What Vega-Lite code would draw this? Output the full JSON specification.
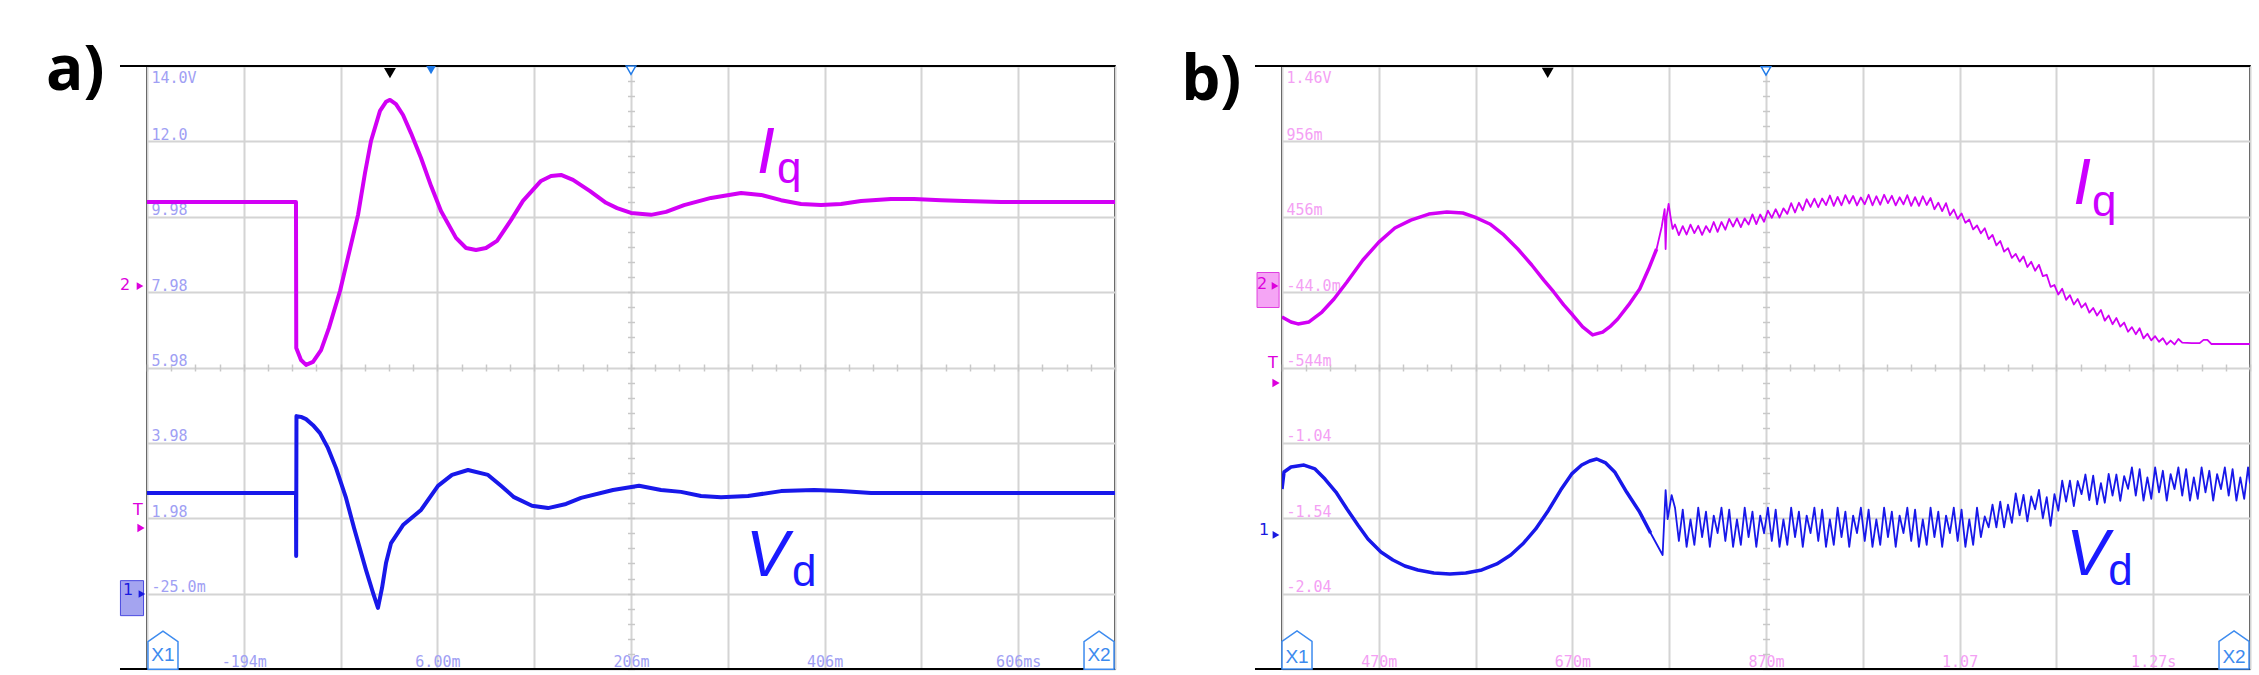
{
"$schema": "https://vega.github.io/schema/vega-lite/v6.json",
"background": "white",
"padding": {"left": 45, "top": 39, "right": 8, "bottom": 5},
"autosize": {"type": "pad"},
"bounds": "flush",
"spacing": 167,
"config": {
  "view": {"stroke": "#000000", "strokeWidth": 2},
  "axis": {"domain": false, "ticks": false, "tickSize": 0, "grid": true, "gridColor": "#d4d4d4", "gridWidth": 2, "labelFont": "DejaVu Sans Mono", "labelFontSize": 15, "labelFlush": false, "labelOverlap": false}
},
"datasets": {
"a": [
{"s":"Iq","t":-294,"v":10.37},{"s":"Iq","t":-140.1,"v":10.37},{"s":"Iq","t":-139.8,"v":6.5},{"s":"Iq","t":-134.9,"v":6.18},{"s":"Iq","t":-129.7,"v":6.05},{"s":"Iq","t":-122.5,"v":6.13},{"s":"Iq","t":-114.2,"v":6.44},{"s":"Iq","t":-106,"v":7.03},{"s":"Iq","t":-94.6,"v":8.01},{"s":"Iq","t":-85.3,"v":9.02},{"s":"Iq","t":-76,"v":10.03},{"s":"Iq","t":-68.8,"v":11.14},{"s":"Iq","t":-62.6,"v":11.99},{"s":"Iq","t":-53.3,"v":12.79},{"s":"Iq","t":-47.1,"v":13.03},{"s":"Iq","t":-43,"v":13.08},{"s":"Iq","t":-36.8,"v":12.97},{"s":"Iq","t":-29.5,"v":12.68},{"s":"Iq","t":-21.3,"v":12.2},{"s":"Iq","t":-10.9,"v":11.54},{"s":"Iq","t":-0.6,"v":10.8},{"s":"Iq","t":9.7,"v":10.13},{"s":"Iq","t":25.2,"v":9.42},{"s":"Iq","t":35.6,"v":9.15},{"s":"Iq","t":45.9,"v":9.1},{"s":"Iq","t":56.2,"v":9.15},{"s":"Iq","t":67.6,"v":9.34},{"s":"Iq","t":82,"v":9.89},{"s":"Iq","t":94.4,"v":10.4},{"s":"Iq","t":113,"v":10.93},{"s":"Iq","t":123.4,"v":11.06},{"s":"Iq","t":133.7,"v":11.09},{"s":"Iq","t":146.1,"v":10.96},{"s":"Iq","t":163.7,"v":10.66},{"s":"Iq","t":180.2,"v":10.35},{"s":"Iq","t":191.6,"v":10.21},{"s":"Iq","t":206,"v":10.08},{"s":"Iq","t":226.7,"v":10.03},{"s":"Iq","t":242.2,"v":10.11},{"s":"Iq","t":260.8,"v":10.29},{"s":"Iq","t":288.7,"v":10.48},{"s":"Iq","t":319.7,"v":10.61},{"s":"Iq","t":340.3,"v":10.56},{"s":"Iq","t":361,"v":10.42},{"s":"Iq","t":381.6,"v":10.32},{"s":"Iq","t":402.3,"v":10.29},{"s":"Iq","t":423,"v":10.32},{"s":"Iq","t":443.6,"v":10.4},{"s":"Iq","t":474.6,"v":10.45},{"s":"Iq","t":498.4,"v":10.45},{"s":"Iq","t":526.3,"v":10.42},{"s":"Iq","t":550,"v":10.4},{"s":"Iq","t":588.3,"v":10.37},{"s":"Iq","t":706,"v":10.37},
{"s":"Vd","t":-294,"v":2.65},{"s":"Vd","t":-140.1,"v":2.65},{"s":"Vd","t":-139.9,"v":0.98},{"s":"Vd","t":-139.6,"v":4.69},{"s":"Vd","t":-134.9,"v":4.67},{"s":"Vd","t":-129.7,"v":4.61},{"s":"Vd","t":-122.5,"v":4.45},{"s":"Vd","t":-115.3,"v":4.24},{"s":"Vd","t":-107,"v":3.84},{"s":"Vd","t":-98.7,"v":3.31},{"s":"Vd","t":-88.4,"v":2.52},{"s":"Vd","t":-80.1,"v":1.72},{"s":"Vd","t":-67.8,"v":0.61},{"s":"Vd","t":-60.5,"v":0.0},{"s":"Vd","t":-55.4,"v":-0.4},{"s":"Vd","t":-51.2,"v":0.13},{"s":"Vd","t":-47.1,"v":0.79},{"s":"Vd","t":-41.9,"v":1.32},{"s":"Vd","t":-29.5,"v":1.8},{"s":"Vd","t":-10.9,"v":2.2},{"s":"Vd","t":6.6,"v":2.84},{"s":"Vd","t":21.1,"v":3.13},{"s":"Vd","t":37.6,"v":3.26},{"s":"Vd","t":58.3,"v":3.13},{"s":"Vd","t":71.7,"v":2.84},{"s":"Vd","t":85.1,"v":2.54},{"s":"Vd","t":103.7,"v":2.31},{"s":"Vd","t":120.3,"v":2.25},{"s":"Vd","t":138.9,"v":2.36},{"s":"Vd","t":154.4,"v":2.52},{"s":"Vd","t":187.4,"v":2.73},{"s":"Vd","t":214.3,"v":2.84},{"s":"Vd","t":237,"v":2.73},{"s":"Vd","t":257.7,"v":2.68},{"s":"Vd","t":278.3,"v":2.57},{"s":"Vd","t":299,"v":2.54},{"s":"Vd","t":326.9,"v":2.57},{"s":"Vd","t":361,"v":2.7},{"s":"Vd","t":395.1,"v":2.73},{"s":"Vd","t":423,"v":2.7},{"s":"Vd","t":454,"v":2.65},{"s":"Vd","t":706,"v":2.65}
],
"b": [
{"s":"Iq","t":370,"v":-0.205},{"s":"Iq","t":379.3,"v":-0.238},{"s":"Iq","t":386.5,"v":-0.251},{"s":"Iq","t":397.9,"v":-0.238},{"s":"Iq","t":411.3,"v":-0.172},{"s":"Iq","t":423.7,"v":-0.086},{"s":"Iq","t":437.1,"v":0.027},{"s":"Iq","t":453.6,"v":0.173},{"s":"Iq","t":470.1,"v":0.292},{"s":"Iq","t":486.6,"v":0.385},{"s":"Iq","t":503.1,"v":0.438},{"s":"Iq","t":521.7,"v":0.478},{"s":"Iq","t":540.3,"v":0.492},{"s":"Iq","t":556.8,"v":0.485},{"s":"Iq","t":569.2,"v":0.458},{"s":"Iq","t":584.7,"v":0.412},{"s":"Iq","t":599.1,"v":0.339},{"s":"Iq","t":613.6,"v":0.246},{"s":"Iq","t":628,"v":0.14},{"s":"Iq","t":640.4,"v":0.04},{"s":"Iq","t":650.7,"v":-0.039},{"s":"Iq","t":661,"v":-0.125},{"s":"Iq","t":670.3,"v":-0.192},{"s":"Iq","t":680.6,"v":-0.271},{"s":"Iq","t":690.9,"v":-0.324},{"s":"Iq","t":701.3,"v":-0.305},{"s":"Iq","t":709.5,"v":-0.265},{"s":"Iq","t":716.8,"v":-0.218},{"s":"Iq","t":728.1,"v":-0.125},{"s":"Iq","t":739.5,"v":-0.019},{"s":"Iq","t":748.7,"v":0.113},{"s":"Iq","t":757,"v":0.246},{"s":"Iq","t":762.2,"v":0.392},{"s":"Iq","t":765.3,"v":0.511},{"s":"Iq","t":766.3,"v":0.246},{"s":"Iq","t":767.3,"v":0.458},{"s":"Iq","t":769.4,"v":0.545},{"s":"Iq","t":771.4,"v":0.458},{"s":"Iq","t":773.5,"v":0.379},
{"s":"Iq","t":776,"v":0.409},{"s":"Iq","t":780,"v":0.338},{"s":"Iq","t":784,"v":0.398},{"s":"Iq","t":788,"v":0.342},{"s":"Iq","t":792,"v":0.408},{"s":"Iq","t":796,"v":0.351},{"s":"Iq","t":800,"v":0.4},{"s":"Iq","t":804,"v":0.34},{"s":"Iq","t":808,"v":0.398},{"s":"Iq","t":812,"v":0.357},{"s":"Iq","t":816,"v":0.425},{"s":"Iq","t":820,"v":0.36},{"s":"Iq","t":824,"v":0.425},{"s":"Iq","t":828,"v":0.374},{"s":"Iq","t":832,"v":0.446},{"s":"Iq","t":836,"v":0.395},{"s":"Iq","t":840,"v":0.449},{"s":"Iq","t":844,"v":0.391},{"s":"Iq","t":848,"v":0.449},{"s":"Iq","t":852,"v":0.408},{"s":"Iq","t":856,"v":0.476},{"s":"Iq","t":860,"v":0.411},{"s":"Iq","t":864,"v":0.475},{"s":"Iq","t":868,"v":0.427},{"s":"Iq","t":872,"v":0.501},{"s":"Iq","t":876,"v":0.453},{"s":"Iq","t":880,"v":0.51},{"s":"Iq","t":884,"v":0.455},{"s":"Iq","t":888,"v":0.516},{"s":"Iq","t":892,"v":0.479},{"s":"Iq","t":896,"v":0.55},{"s":"Iq","t":900,"v":0.488},{"s":"Iq","t":904,"v":0.553},{"s":"Iq","t":908,"v":0.503},{"s":"Iq","t":912,"v":0.576},{"s":"Iq","t":916,"v":0.525},{"s":"Iq","t":920,"v":0.58},{"s":"Iq","t":924,"v":0.523},{"s":"Iq","t":928,"v":0.581},{"s":"Iq","t":932,"v":0.537},{"s":"Iq","t":936,"v":0.601},{"s":"Iq","t":940,"v":0.532},{"s":"Iq","t":944,"v":0.592},{"s":"Iq","t":948,"v":0.536},{"s":"Iq","t":952,"v":0.603},{"s":"Iq","t":956,"v":0.548},{"s":"Iq","t":960,"v":0.598},{"s":"Iq","t":964,"v":0.535},{"s":"Iq","t":968,"v":0.588},{"s":"Iq","t":972,"v":0.543},{"s":"Iq","t":976,"v":0.606},{"s":"Iq","t":980,"v":0.536},{"s":"Iq","t":984,"v":0.596},{"s":"Iq","t":988,"v":0.54},{"s":"Iq","t":992,"v":0.606},{"s":"Iq","t":996,"v":0.55},{"s":"Iq","t":1000,"v":0.599},{"s":"Iq","t":1004,"v":0.536},{"s":"Iq","t":1008,"v":0.589},{"s":"Iq","t":1012,"v":0.542},{"s":"Iq","t":1016,"v":0.603},{"s":"Iq","t":1020,"v":0.532},{"s":"Iq","t":1024,"v":0.59},{"s":"Iq","t":1028,"v":0.532},{"s":"Iq","t":1032,"v":0.596},{"s":"Iq","t":1036,"v":0.538},{"s":"Iq","t":1040,"v":0.584},{"s":"Iq","t":1044,"v":0.51},{"s":"Iq","t":1048,"v":0.553},{"s":"Iq","t":1052,"v":0.497},{"s":"Iq","t":1056,"v":0.55},{"s":"Iq","t":1060,"v":0.47},{"s":"Iq","t":1064,"v":0.508},{"s":"Iq","t":1068,"v":0.446},{"s":"Iq","t":1072,"v":0.482},{"s":"Iq","t":1076,"v":0.42},{"s":"Iq","t":1080,"v":0.442},{"s":"Iq","t":1084,"v":0.376},{"s":"Iq","t":1088,"v":0.402},{"s":"Iq","t":1092,"v":0.35},{"s":"Iq","t":1096,"v":0.384},{"s":"Iq","t":1100,"v":0.312},{"s":"Iq","t":1104,"v":0.34},{"s":"Iq","t":1108,"v":0.27},{"s":"Iq","t":1112,"v":0.299},{"s":"Iq","t":1116,"v":0.229},{"s":"Iq","t":1120,"v":0.252},{"s":"Iq","t":1124,"v":0.187},{"s":"Iq","t":1128,"v":0.213},{"s":"Iq","t":1132,"v":0.162},{"s":"Iq","t":1136,"v":0.197},{"s":"Iq","t":1140,"v":0.127},{"s":"Iq","t":1144,"v":0.161},{"s":"Iq","t":1148,"v":0.102},{"s":"Iq","t":1152,"v":0.141},{"s":"Iq","t":1156,"v":0.066},{"s":"Iq","t":1160,"v":0.075},{"s":"Iq","t":1164,"v":-0.005},{"s":"Iq","t":1168,"v":0.007},{"s":"Iq","t":1172,"v":-0.056},{"s":"Iq","t":1176,"v":-0.018},{"s":"Iq","t":1180,"v":-0.091},{"s":"Iq","t":1184,"v":-0.06},{"s":"Iq","t":1188,"v":-0.122},{"s":"Iq","t":1192,"v":-0.086},{"s":"Iq","t":1196,"v":-0.142},{"s":"Iq","t":1200,"v":-0.114},{"s":"Iq","t":1204,"v":-0.176},{"s":"Iq","t":1208,"v":-0.145},{"s":"Iq","t":1212,"v":-0.195},{"s":"Iq","t":1216,"v":-0.159},{"s":"Iq","t":1220,"v":-0.229},{"s":"Iq","t":1224,"v":-0.195},{"s":"Iq","t":1228,"v":-0.253},{"s":"Iq","t":1232,"v":-0.212},{"s":"Iq","t":1236,"v":-0.269},{"s":"Iq","t":1240,"v":-0.242},{"s":"Iq","t":1244,"v":-0.303},{"s":"Iq","t":1248,"v":-0.272},{"s":"Iq","t":1252,"v":-0.319},{"s":"Iq","t":1256,"v":-0.28},{"s":"Iq","t":1260,"v":-0.347},{"s":"Iq","t":1264,"v":-0.316},{"s":"Iq","t":1268,"v":-0.36},{"s":"Iq","t":1272,"v":-0.332},{"s":"Iq","t":1276,"v":-0.369},{"s":"Iq","t":1280,"v":-0.346},{"s":"Iq","t":1284,"v":-0.387},{"s":"Iq","t":1288,"v":-0.361},{"s":"Iq","t":1292,"v":-0.387},{"s":"Iq","t":1296,"v":-0.351},{"s":"Iq","t":1300,"v":-0.375},{"s":"Iq","t":1310,"v":-0.378},{"s":"Iq","t":1318,"v":-0.378},{"s":"Iq","t":1322,"v":-0.357},{"s":"Iq","t":1326,"v":-0.357},{"s":"Iq","t":1330,"v":-0.384},{"s":"Iq","t":1370,"v":-0.384},
{"s":"Vd","t":370,"v":-1.346},{"s":"Vd","t":372.1,"v":-1.233},{"s":"Vd","t":379.3,"v":-1.2},{"s":"Vd","t":392.7,"v":-1.187},{"s":"Vd","t":404.1,"v":-1.213},{"s":"Vd","t":414.4,"v":-1.28},{"s":"Vd","t":425.7,"v":-1.366},{"s":"Vd","t":437.1,"v":-1.479},{"s":"Vd","t":448.4,"v":-1.585},{"s":"Vd","t":458.8,"v":-1.678},{"s":"Vd","t":472.2,"v":-1.764},{"s":"Vd","t":484.6,"v":-1.817},{"s":"Vd","t":496.9,"v":-1.857},{"s":"Vd","t":510.4,"v":-1.883},{"s":"Vd","t":526.9,"v":-1.903},{"s":"Vd","t":543.4,"v":-1.91},{"s":"Vd","t":559.9,"v":-1.903},{"s":"Vd","t":576.4,"v":-1.883},{"s":"Vd","t":591.9,"v":-1.843},{"s":"Vd","t":606.3,"v":-1.784},{"s":"Vd","t":619.7,"v":-1.704},{"s":"Vd","t":632.1,"v":-1.611},{"s":"Vd","t":645.5,"v":-1.485},{"s":"Vd","t":657.9,"v":-1.353},{"s":"Vd","t":669.3,"v":-1.246},{"s":"Vd","t":679.6,"v":-1.187},{"s":"Vd","t":687.9,"v":-1.16},{"s":"Vd","t":695.1,"v":-1.147},{"s":"Vd","t":704.4,"v":-1.173},{"s":"Vd","t":713.7,"v":-1.233},{"s":"Vd","t":726,"v":-1.366},{"s":"Vd","t":739.5,"v":-1.499},{"s":"Vd","t":750.8,"v":-1.638},{"s":"Vd","t":763.2,"v":-1.784},{"s":"Vd","t":766.3,"v":-1.353},{"s":"Vd","t":768.4,"v":-1.545},{"s":"Vd","t":772.5,"v":-1.386},
{"s":"Vd","t":776,"v":-1.47},{"s":"Vd","t":780,"v":-1.691},{"s":"Vd","t":784,"v":-1.483},{"s":"Vd","t":788,"v":-1.73},{"s":"Vd","t":792,"v":-1.548},{"s":"Vd","t":796,"v":-1.717},{"s":"Vd","t":800,"v":-1.47},{"s":"Vd","t":804,"v":-1.665},{"s":"Vd","t":808,"v":-1.496},{"s":"Vd","t":812,"v":-1.73},{"s":"Vd","t":816,"v":-1.522},{"s":"Vd","t":820,"v":-1.639},{"s":"Vd","t":824,"v":-1.47},{"s":"Vd","t":828,"v":-1.691},{"s":"Vd","t":832,"v":-1.483},{"s":"Vd","t":836,"v":-1.73},{"s":"Vd","t":840,"v":-1.548},{"s":"Vd","t":844,"v":-1.717},{"s":"Vd","t":848,"v":-1.47},{"s":"Vd","t":852,"v":-1.665},{"s":"Vd","t":856,"v":-1.496},{"s":"Vd","t":860,"v":-1.73},{"s":"Vd","t":864,"v":-1.522},{"s":"Vd","t":868,"v":-1.639},{"s":"Vd","t":872,"v":-1.47},{"s":"Vd","t":876,"v":-1.691},{"s":"Vd","t":880,"v":-1.483},{"s":"Vd","t":884,"v":-1.73},{"s":"Vd","t":888,"v":-1.548},{"s":"Vd","t":892,"v":-1.717},{"s":"Vd","t":896,"v":-1.47},{"s":"Vd","t":900,"v":-1.665},{"s":"Vd","t":904,"v":-1.496},{"s":"Vd","t":908,"v":-1.73},{"s":"Vd","t":912,"v":-1.522},{"s":"Vd","t":916,"v":-1.639},{"s":"Vd","t":920,"v":-1.47},{"s":"Vd","t":924,"v":-1.691},{"s":"Vd","t":928,"v":-1.483},{"s":"Vd","t":932,"v":-1.73},{"s":"Vd","t":936,"v":-1.548},{"s":"Vd","t":940,"v":-1.717},{"s":"Vd","t":944,"v":-1.47},{"s":"Vd","t":948,"v":-1.665},{"s":"Vd","t":952,"v":-1.496},{"s":"Vd","t":956,"v":-1.73},{"s":"Vd","t":960,"v":-1.522},{"s":"Vd","t":964,"v":-1.639},{"s":"Vd","t":968,"v":-1.47},{"s":"Vd","t":972,"v":-1.691},{"s":"Vd","t":976,"v":-1.483},{"s":"Vd","t":980,"v":-1.73},{"s":"Vd","t":984,"v":-1.548},{"s":"Vd","t":988,"v":-1.717},{"s":"Vd","t":992,"v":-1.47},{"s":"Vd","t":996,"v":-1.665},{"s":"Vd","t":1000,"v":-1.496},{"s":"Vd","t":1004,"v":-1.73},{"s":"Vd","t":1008,"v":-1.522},{"s":"Vd","t":1012,"v":-1.639},{"s":"Vd","t":1016,"v":-1.47},{"s":"Vd","t":1020,"v":-1.691},{"s":"Vd","t":1024,"v":-1.483},{"s":"Vd","t":1028,"v":-1.73},{"s":"Vd","t":1032,"v":-1.548},{"s":"Vd","t":1036,"v":-1.717},{"s":"Vd","t":1040,"v":-1.47},{"s":"Vd","t":1044,"v":-1.665},{"s":"Vd","t":1048,"v":-1.496},{"s":"Vd","t":1052,"v":-1.73},{"s":"Vd","t":1056,"v":-1.522},{"s":"Vd","t":1060,"v":-1.639},{"s":"Vd","t":1064,"v":-1.47},{"s":"Vd","t":1068,"v":-1.691},{"s":"Vd","t":1072,"v":-1.483},{"s":"Vd","t":1076,"v":-1.73},{"s":"Vd","t":1080,"v":-1.548},{"s":"Vd","t":1084,"v":-1.717},{"s":"Vd","t":1088,"v":-1.47},{"s":"Vd","t":1092,"v":-1.665},{"s":"Vd","t":1096,"v":-1.528},{"s":"Vd","t":1100,"v":-1.6},{"s":"Vd","t":1104,"v":-1.45},{"s":"Vd","t":1108,"v":-1.6},{"s":"Vd","t":1112,"v":-1.43},{"s":"Vd","t":1116,"v":-1.6},{"s":"Vd","t":1120,"v":-1.45},{"s":"Vd","t":1124,"v":-1.57},{"s":"Vd","t":1128,"v":-1.375},{"s":"Vd","t":1132,"v":-1.52},{"s":"Vd","t":1136,"v":-1.385},{"s":"Vd","t":1140,"v":-1.56},{"s":"Vd","t":1144,"v":-1.395},{"s":"Vd","t":1148,"v":-1.48},{"s":"Vd","t":1152,"v":-1.352},{"s":"Vd","t":1156,"v":-1.54},{"s":"Vd","t":1160,"v":-1.4},{"s":"Vd","t":1164,"v":-1.59},{"s":"Vd","t":1168,"v":-1.38},{"s":"Vd","t":1172,"v":-1.49},{"s":"Vd","t":1176,"v":-1.29},{"s":"Vd","t":1180,"v":-1.43},{"s":"Vd","t":1184,"v":-1.29},{"s":"Vd","t":1188,"v":-1.46},{"s":"Vd","t":1192,"v":-1.293},{"s":"Vd","t":1196,"v":-1.38},{"s":"Vd","t":1200,"v":-1.25},{"s":"Vd","t":1204,"v":-1.42},{"s":"Vd","t":1208,"v":-1.258},{"s":"Vd","t":1212,"v":-1.448},{"s":"Vd","t":1216,"v":-1.307},{"s":"Vd","t":1220,"v":-1.437},{"s":"Vd","t":1224,"v":-1.246},{"s":"Vd","t":1228,"v":-1.39},{"s":"Vd","t":1232,"v":-1.25},{"s":"Vd","t":1236,"v":-1.425},{"s":"Vd","t":1240,"v":-1.26},{"s":"Vd","t":1244,"v":-1.345},{"s":"Vd","t":1248,"v":-1.203},{"s":"Vd","t":1252,"v":-1.39},{"s":"Vd","t":1256,"v":-1.214},{"s":"Vd","t":1260,"v":-1.423},{"s":"Vd","t":1264,"v":-1.269},{"s":"Vd","t":1268,"v":-1.412},{"s":"Vd","t":1272,"v":-1.203},{"s":"Vd","t":1276,"v":-1.368},{"s":"Vd","t":1280,"v":-1.225},{"s":"Vd","t":1284,"v":-1.423},{"s":"Vd","t":1288,"v":-1.247},{"s":"Vd","t":1292,"v":-1.346},{"s":"Vd","t":1296,"v":-1.203},{"s":"Vd","t":1300,"v":-1.39},{"s":"Vd","t":1304,"v":-1.214},{"s":"Vd","t":1308,"v":-1.423},{"s":"Vd","t":1312,"v":-1.269},{"s":"Vd","t":1316,"v":-1.412},{"s":"Vd","t":1320,"v":-1.203},{"s":"Vd","t":1324,"v":-1.368},{"s":"Vd","t":1328,"v":-1.225},{"s":"Vd","t":1332,"v":-1.423},{"s":"Vd","t":1336,"v":-1.247},{"s":"Vd","t":1340,"v":-1.346},{"s":"Vd","t":1344,"v":-1.203},{"s":"Vd","t":1348,"v":-1.39},{"s":"Vd","t":1352,"v":-1.214},{"s":"Vd","t":1356,"v":-1.423},{"s":"Vd","t":1360,"v":-1.269},{"s":"Vd","t":1364,"v":-1.412},{"s":"Vd","t":1368,"v":-1.203},{"s":"Vd","t":1370,"v":-1.31}
]
},
"hconcat": [
{
  "width": 968, "height": 603,
  "resolve": {"axis": {"x": "independent", "y": "independent"}},
  "layer": [
    {
      "data": {"name": "a"},
      "mark": {"type": "line", "strokeWidth": 4, "strokeJoin": "round", "clip": true},
      "encoding": {
        "x": {"field": "t", "type": "quantitative", "scale": {"domain": [-294, 706], "nice": false, "zero": false},
              "axis": {"title": null, "orient": "bottom", "values": [-294,-194,-94,6,106,206,306,406,506,606,706],
                       "labelExpr": "datum.value == -194 ? '-194m' : datum.value == 6 ? '6.00m' : datum.value == 206 ? '206m' : datum.value == 406 ? '406m' : datum.value == 606 ? '606ms' : ''",
                       "labelColor": "#a0a0f4", "labelPadding": -3, "labelBaseline": "alphabetic", "labelAlign": "center"}},
        "y": {"field": "v", "type": "quantitative", "scale": {"domain": [-2.02, 13.98], "nice": false, "zero": false},
              "axis": {"title": null, "values": [-2.02,-0.02,1.98,3.98,5.98,7.98,9.98,11.98,13.98],
                       "labelExpr": "datum.value > 13 ? '14.0V' : datum.value > 11 ? '12.0' : datum.value > 9 ? '9.98' : datum.value > 7 ? '7.98' : datum.value > 5 ? '5.98' : datum.value > 3 ? '3.98' : datum.value > 1 ? '1.98' : datum.value > -1 ? '-25.0m' : ''",
                       "labelColor": "#a0a0f4", "labelAlign": "left", "labelPadding": -4,
                       "labelBaseline": {"condition": {"test": "datum.value > 13", "value": "top"}, "value": "alphabetic"},
                       "labelOffset": {"condition": {"test": "datum.value > 13", "value": 4}, "value": -2}}},
        "color": {"field": "s", "type": "nominal", "scale": {"domain": ["Iq", "Vd"], "range": ["#d200f5", "#1818ea"]}, "legend": null}
      }
    },
    {
      "data": {"name": "a"},
      "mark": {"type": "point", "opacity": 0},
      "encoding": {
        "x": {"field": "t", "type": "quantitative", "axis": {"title": null, "orient": "bottom", "offset": -305, "grid": false, "labels": false, "ticks": true, "tickSize": 7, "tickWidth": 1.5, "tickColor": "#c8c8c8",
              "values": [-294,-269,-244,-219,-194,-169,-144,-119,-94,-69,-44,-19,6,31,56,81,106,131,156,181,206,231,256,281,306,331,356,381,406,431,456,481,506,531,556,581,606,631,656,681,706]}},
        "y": {"field": "v", "type": "quantitative", "axis": {"title": null, "orient": "left", "offset": -487.5, "grid": false, "labels": false, "ticks": true, "tickSize": 7, "tickWidth": 1.5, "tickColor": "#c8c8c8",
              "values": [-2.02,-1.62,-1.22,-0.82,-0.42,-0.02,0.38,0.78,1.18,1.58,1.98,2.38,2.78,3.18,3.58,3.98,4.38,4.78,5.18,5.58,5.98,6.38,6.78,7.18,7.58,7.98,8.38,8.78,9.18,9.58,9.98,10.38,10.78,11.18,11.58,11.98,12.38,12.78,13.18,13.58,13.98]}}
      }
    },
    {
      "data": {"values": [{}]},
      "layer": [
        {"mark": {"type": "rule", "color": "#000000", "strokeWidth": 2}, "encoding": {"x": {"datum": -321.9, "type": "quantitative", "axis": null}, "x2": {"datum": 706}, "y": {"datum": 13.98, "type": "quantitative", "axis": null}}},
        {"mark": {"type": "rule", "color": "#000000", "strokeWidth": 2}, "encoding": {"x": {"datum": -321.9, "type": "quantitative", "axis": null}, "x2": {"datum": 706}, "y": {"datum": -2.02, "type": "quantitative", "axis": null}}},
        {"mark": {"type": "text", "text": "I", "font": "Liberation Sans", "fontSize": 64, "fontStyle": "italic", "align": "left", "baseline": "alphabetic", "color": "#cc00ff"}, "encoding": {"x": {"datum": 336.2, "type": "quantitative", "axis": null}, "y": {"datum": 11.14, "type": "quantitative", "axis": null}}},
        {"mark": {"type": "text", "text": "q", "font": "Liberation Sans", "fontSize": 44, "align": "left", "baseline": "alphabetic", "color": "#cc00ff"}, "encoding": {"x": {"datum": 356.8, "type": "quantitative", "axis": null}, "y": {"datum": 10.88, "type": "quantitative", "axis": null}}},
        {"mark": {"type": "text", "text": "V", "font": "Liberation Sans", "fontSize": 64, "fontStyle": "italic", "align": "left", "baseline": "alphabetic", "color": "#1a1aff"}, "encoding": {"x": {"datum": 324.8, "type": "quantitative", "axis": null}, "y": {"datum": 0.45, "type": "quantitative", "axis": null}}},
        {"mark": {"type": "text", "text": "d", "font": "Liberation Sans", "fontSize": 44, "align": "left", "baseline": "alphabetic", "color": "#1a1aff"}, "encoding": {"x": {"datum": 372.3, "type": "quantitative", "axis": null}, "y": {"datum": 0.18, "type": "quantitative", "axis": null}}},
        {"mark": {"type": "text", "text": "a)", "font": "Open Sans", "fontSize": 62, "fontWeight": "bold", "align": "left", "baseline": "alphabetic", "color": "#000000"}, "encoding": {"x": {"datum": -398.3, "type": "quantitative", "axis": null}, "y": {"datum": 13.34, "type": "quantitative", "axis": null}}},
        {"mark": {"type": "point", "shape": "triangle-down", "filled": true, "fill": "#000000", "opacity": 1, "size": 140}, "encoding": {"x": {"datum": -43, "type": "quantitative", "axis": null}, "y": {"datum": 13.79, "type": "quantitative", "axis": null}}},
        {"mark": {"type": "point", "shape": "triangle-down", "filled": true, "fill": "#1f7ae8", "opacity": 1, "size": 90}, "encoding": {"x": {"datum": -0.6, "type": "quantitative", "axis": null}, "y": {"datum": 13.87, "type": "quantitative", "axis": null}}},
        {"mark": {"type": "point", "shape": "triangle-down", "filled": true, "fill": "#ffffff", "stroke": "#1f7ae8", "strokeWidth": 1.5, "opacity": 1, "size": 90}, "encoding": {"x": {"datum": 206, "type": "quantitative", "axis": null}, "y": {"datum": 13.87, "type": "quantitative", "axis": null}}},
        {"mark": {"type": "point", "shape": "M-0.79,1L-0.79,-0.45L0,-1L0.79,-0.45L0.79,1Z", "filled": true, "fill": "#ffffff", "stroke": "#3d8bef", "strokeWidth": 1.5, "opacity": 1, "size": 1444}, "encoding": {"x": {"datum": -277.5, "type": "quantitative", "axis": null}, "y": {"datum": -1.52, "type": "quantitative", "axis": null}}},
        {"mark": {"type": "text", "text": "X1", "font": "Liberation Sans", "fontSize": 19, "align": "center", "baseline": "middle", "color": "#3d8bef"}, "encoding": {"x": {"datum": -277.5, "type": "quantitative", "axis": null}, "y": {"datum": -1.65, "type": "quantitative", "axis": null}}},
        {"mark": {"type": "point", "shape": "M-0.79,1L-0.79,-0.45L0,-1L0.79,-0.45L0.79,1Z", "filled": true, "fill": "#ffffff", "stroke": "#3d8bef", "strokeWidth": 1.5, "opacity": 1, "size": 1444}, "encoding": {"x": {"datum": 689.5, "type": "quantitative", "axis": null}, "y": {"datum": -1.52, "type": "quantitative", "axis": null}}},
        {"mark": {"type": "text", "text": "X2", "font": "Liberation Sans", "fontSize": 19, "align": "center", "baseline": "middle", "color": "#3d8bef"}, "encoding": {"x": {"datum": 689.5, "type": "quantitative", "axis": null}, "y": {"datum": -1.65, "type": "quantitative", "axis": null}}},
        {"mark": {"type": "text", "text": "2", "font": "DejaVu Sans", "fontSize": 16, "align": "center", "baseline": "middle", "color": "#dd00dd"}, "encoding": {"x": {"datum": -316.7, "type": "quantitative", "axis": null}, "y": {"datum": 8.17, "type": "quantitative", "axis": null}}},
        {"mark": {"type": "point", "shape": "triangle-right", "filled": true, "fill": "#dd00dd", "opacity": 1, "size": 60}, "encoding": {"x": {"datum": -301.2, "type": "quantitative", "axis": null}, "y": {"datum": 8.14, "type": "quantitative", "axis": null}}},
        {"mark": {"type": "text", "text": "T", "font": "DejaVu Sans", "fontSize": 16, "align": "center", "baseline": "middle", "color": "#dd00dd"}, "encoding": {"x": {"datum": -303.3, "type": "quantitative", "axis": null}, "y": {"datum": 2.2, "type": "quantitative", "axis": null}}},
        {"mark": {"type": "point", "shape": "triangle-right", "filled": true, "fill": "#dd00dd", "opacity": 1, "size": 70}, "encoding": {"x": {"datum": -300.2, "type": "quantitative", "axis": null}, "y": {"datum": 1.72, "type": "quantitative", "axis": null}}},
        {"mark": {"type": "point", "shape": "M-0.66,-1L0.66,-1L0.66,1L-0.66,1Z", "filled": true, "fill": "#a4a4f0", "stroke": "#4a4ae0", "strokeWidth": 1, "opacity": 1, "size": 1225}, "encoding": {"x": {"datum": -309.5, "type": "quantitative", "axis": null}, "y": {"datum": -0.14, "type": "quantitative", "axis": null}}},
        {"mark": {"type": "text", "text": "1", "font": "DejaVu Sans", "fontSize": 16, "align": "center", "baseline": "middle", "color": "#1a1ae0"}, "encoding": {"x": {"datum": -313.6, "type": "quantitative", "axis": null}, "y": {"datum": 0.08, "type": "quantitative", "axis": null}}},
        {"mark": {"type": "point", "shape": "triangle-right", "filled": true, "fill": "#1a1ae0", "opacity": 1, "size": 60}, "encoding": {"x": {"datum": -299.2, "type": "quantitative", "axis": null}, "y": {"datum": -0.03, "type": "quantitative", "axis": null}}}
      ]
    }
  ]
},
{
  "width": 968, "height": 603,
  "resolve": {"axis": {"x": "independent", "y": "independent"}},
  "layer": [
    {
      "data": {"name": "b"},
      "mark": {"type": "line", "strokeWidth": 1.8, "strokeJoin": "round", "clip": true},
      "encoding": {
        "x": {"field": "t", "type": "quantitative", "scale": {"domain": [370, 1370], "nice": false, "zero": false},
              "axis": {"title": null, "orient": "bottom", "values": [370,470,570,670,770,870,970,1070,1170,1270,1370],
                       "labelExpr": "datum.value == 470 ? '470m' : datum.value == 670 ? '670m' : datum.value == 870 ? '870m' : datum.value == 1070 ? '1.07' : datum.value == 1270 ? '1.27s' : ''",
                       "labelColor": "#f4a0f4", "labelPadding": -3, "labelBaseline": "alphabetic", "labelAlign": "center"}},
        "y": {"field": "v", "type": "quantitative", "scale": {"domain": [-2.54, 1.46], "nice": false, "zero": false},
              "axis": {"title": null, "values": [-2.54,-2.04,-1.54,-1.04,-0.54,-0.04,0.46,0.96,1.46],
                       "labelExpr": "datum.value > 1.2 ? '1.46V' : datum.value > 0.7 ? '956m' : datum.value > 0.2 ? '456m' : datum.value > -0.3 ? '-44.0m' : datum.value > -0.8 ? '-544m' : datum.value > -1.3 ? '-1.04' : datum.value > -1.8 ? '-1.54' : datum.value > -2.3 ? '-2.04' : ''",
                       "labelColor": "#f4a0f4", "labelAlign": "left", "labelPadding": -4,
                       "labelBaseline": {"condition": {"test": "datum.value > 1.2", "value": "top"}, "value": "alphabetic"},
                       "labelOffset": {"condition": {"test": "datum.value > 1.2", "value": 4}, "value": -2}}},
        "color": {"field": "s", "type": "nominal", "scale": {"domain": ["Iq", "Vd"], "range": ["#d200f5", "#1818ea"]}, "legend": null}
      }
    },
    {
      "data": {"name": "b"},
      "transform": [{"filter": "datum.t < 762"}],
      "mark": {"type": "line", "strokeWidth": 3.5, "strokeJoin": "round", "clip": true},
      "encoding": {
        "x": {"field": "t", "type": "quantitative", "axis": null},
        "y": {"field": "v", "type": "quantitative", "axis": null},
        "color": {"field": "s", "type": "nominal", "legend": null}
      }
    },
    {
      "data": {"name": "b"},
      "mark": {"type": "point", "opacity": 0},
      "encoding": {
        "x": {"field": "t", "type": "quantitative", "axis": {"title": null, "orient": "bottom", "offset": -305, "grid": false, "labels": false, "ticks": true, "tickSize": 7, "tickWidth": 1.5, "tickColor": "#c8c8c8",
              "values": [370,395,420,445,470,495,520,545,570,595,620,645,670,695,720,745,770,795,820,845,870,895,920,945,970,995,1020,1045,1070,1095,1120,1145,1170,1195,1220,1245,1270,1295,1320,1345,1370]}},
        "y": {"field": "v", "type": "quantitative", "axis": {"title": null, "orient": "left", "offset": -487.5, "grid": false, "labels": false, "ticks": true, "tickSize": 7, "tickWidth": 1.5, "tickColor": "#c8c8c8",
              "values": [-2.54,-2.44,-2.34,-2.24,-2.14,-2.04,-1.94,-1.84,-1.74,-1.64,-1.54,-1.44,-1.34,-1.24,-1.14,-1.04,-0.94,-0.84,-0.74,-0.64,-0.54,-0.44,-0.34,-0.24,-0.14,-0.04,0.06,0.16,0.26,0.36,0.46,0.56,0.66,0.76,0.86,0.96,1.06,1.16,1.26,1.36,1.46]}}
      }
    },
    {
      "data": {"values": [{}]},
      "layer": [
        {"mark": {"type": "rule", "color": "#000000", "strokeWidth": 2}, "encoding": {"x": {"datum": 342.1, "type": "quantitative", "axis": null}, "x2": {"datum": 1370}, "y": {"datum": 1.46, "type": "quantitative", "axis": null}}},
        {"mark": {"type": "rule", "color": "#000000", "strokeWidth": 2}, "encoding": {"x": {"datum": 342.1, "type": "quantitative", "axis": null}, "x2": {"datum": 1370}, "y": {"datum": -2.54, "type": "quantitative", "axis": null}}},
        {"mark": {"type": "text", "text": "I", "font": "Liberation Sans", "fontSize": 64, "fontStyle": "italic", "align": "left", "baseline": "alphabetic", "color": "#cc00ff"}, "encoding": {"x": {"datum": 1187.3, "type": "quantitative", "axis": null}, "y": {"datum": 0.545, "type": "quantitative", "axis": null}}},
        {"mark": {"type": "text", "text": "q", "font": "Liberation Sans", "fontSize": 44, "align": "left", "baseline": "alphabetic", "color": "#cc00ff"}, "encoding": {"x": {"datum": 1206.9, "type": "quantitative", "axis": null}, "y": {"datum": 0.465, "type": "quantitative", "axis": null}}},
        {"mark": {"type": "text", "text": "V", "font": "Liberation Sans", "fontSize": 64, "fontStyle": "italic", "align": "left", "baseline": "alphabetic", "color": "#1a1aff"}, "encoding": {"x": {"datum": 1180.1, "type": "quantitative", "axis": null}, "y": {"datum": -1.916, "type": "quantitative", "axis": null}}},
        {"mark": {"type": "text", "text": "d", "font": "Liberation Sans", "fontSize": 44, "align": "left", "baseline": "alphabetic", "color": "#1a1aff"}, "encoding": {"x": {"datum": 1223.5, "type": "quantitative", "axis": null}, "y": {"datum": -1.983, "type": "quantitative", "axis": null}}},
        {"mark": {"type": "text", "text": "b)", "font": "Open Sans", "fontSize": 62, "fontWeight": "bold", "align": "left", "baseline": "alphabetic", "color": "#000000"}, "encoding": {"x": {"datum": 265.8, "type": "quantitative", "axis": null}, "y": {"datum": 1.235, "type": "quantitative", "axis": null}}},
        {"mark": {"type": "point", "shape": "triangle-down", "filled": true, "fill": "#000000", "opacity": 1, "size": 140}, "encoding": {"x": {"datum": 644.5, "type": "quantitative", "axis": null}, "y": {"datum": 1.414, "type": "quantitative", "axis": null}}},
        {"mark": {"type": "point", "shape": "triangle-down", "filled": true, "fill": "#ffffff", "stroke": "#1f7ae8", "strokeWidth": 1.5, "opacity": 1, "size": 90}, "encoding": {"x": {"datum": 870, "type": "quantitative", "axis": null}, "y": {"datum": 1.427, "type": "quantitative", "axis": null}}},
        {"mark": {"type": "point", "shape": "M-0.79,1L-0.79,-0.45L0,-1L0.79,-0.45L0.79,1Z", "filled": true, "fill": "#ffffff", "stroke": "#3d8bef", "strokeWidth": 1.5, "opacity": 1, "size": 1444}, "encoding": {"x": {"datum": 385.5, "type": "quantitative", "axis": null}, "y": {"datum": -2.414, "type": "quantitative", "axis": null}}},
        {"mark": {"type": "text", "text": "X1", "font": "Liberation Sans", "fontSize": 19, "align": "center", "baseline": "middle", "color": "#3d8bef"}, "encoding": {"x": {"datum": 385.5, "type": "quantitative", "axis": null}, "y": {"datum": -2.46, "type": "quantitative", "axis": null}}},
        {"mark": {"type": "point", "shape": "M-0.79,1L-0.79,-0.45L0,-1L0.79,-0.45L0.79,1Z", "filled": true, "fill": "#ffffff", "stroke": "#3d8bef", "strokeWidth": 1.5, "opacity": 1, "size": 1444}, "encoding": {"x": {"datum": 1353.5, "type": "quantitative", "axis": null}, "y": {"datum": -2.414, "type": "quantitative", "axis": null}}},
        {"mark": {"type": "text", "text": "X2", "font": "Liberation Sans", "fontSize": 19, "align": "center", "baseline": "middle", "color": "#3d8bef"}, "encoding": {"x": {"datum": 1353.5, "type": "quantitative", "axis": null}, "y": {"datum": -2.46, "type": "quantitative", "axis": null}}},
        {"mark": {"type": "point", "shape": "M-0.63,-1L0.63,-1L0.63,1L-0.63,1Z", "filled": true, "fill": "#f5a5f5", "stroke": "#e040e0", "strokeWidth": 1, "opacity": 1, "size": 1225}, "encoding": {"x": {"datum": 355.6, "type": "quantitative", "axis": null}, "y": {"datum": -0.026, "type": "quantitative", "axis": null}}},
        {"mark": {"type": "text", "text": "2", "font": "DejaVu Sans", "fontSize": 16, "align": "center", "baseline": "middle", "color": "#dd00dd"}, "encoding": {"x": {"datum": 349.4, "type": "quantitative", "axis": null}, "y": {"datum": 0.014, "type": "quantitative", "axis": null}}},
        {"mark": {"type": "point", "shape": "triangle-right", "filled": true, "fill": "#dd00dd", "opacity": 1, "size": 60}, "encoding": {"x": {"datum": 362.8, "type": "quantitative", "axis": null}, "y": {"datum": 0.001, "type": "quantitative", "axis": null}}},
        {"mark": {"type": "text", "text": "T", "font": "DejaVu Sans", "fontSize": 16, "align": "center", "baseline": "middle", "color": "#dd00dd"}, "encoding": {"x": {"datum": 360.7, "type": "quantitative", "axis": null}, "y": {"datum": -0.51, "type": "quantitative", "axis": null}}},
        {"mark": {"type": "point", "shape": "triangle-right", "filled": true, "fill": "#dd00dd", "opacity": 1, "size": 70}, "encoding": {"x": {"datum": 363.8, "type": "quantitative", "axis": null}, "y": {"datum": -0.643, "type": "quantitative", "axis": null}}},
        {"mark": {"type": "text", "text": "1", "font": "DejaVu Sans", "fontSize": 16, "align": "center", "baseline": "middle", "color": "#1a1ae0"}, "encoding": {"x": {"datum": 351.4, "type": "quantitative", "axis": null}, "y": {"datum": -1.618, "type": "quantitative", "axis": null}}},
        {"mark": {"type": "point", "shape": "triangle-right", "filled": true, "fill": "#1a1ae0", "opacity": 1, "size": 60}, "encoding": {"x": {"datum": 363.8, "type": "quantitative", "axis": null}, "y": {"datum": -1.651, "type": "quantitative", "axis": null}}}
      ]
    }
  ]
}
]
}
